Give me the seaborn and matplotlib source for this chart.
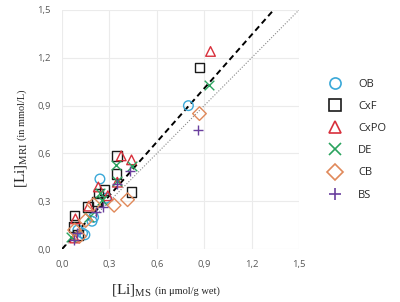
import matplotlib
matplotlib.use('Agg')
import matplotlib.pyplot as plt
from matplotlib.lines import Line2D
import seaborn as sns

# values
ob_x = [0.80, 0.24, 0.19, 0.20, 0.145, 0.13, 0.28, 0.10]
ob_y = [0.90, 0.44, 0.175, 0.20, 0.09, 0.10, 0.32, 0.12]

cxf_x = [0.87, 0.35, 0.345, 0.44, 0.27, 0.22, 0.165, 0.08, 0.075, 0.10, 0.23]
cxf_y = [1.14, 0.585, 0.47, 0.36, 0.37, 0.30, 0.265, 0.21, 0.14, 0.09, 0.35]

cxpo_x = [0.94, 0.375, 0.44, 0.35, 0.23, 0.29, 0.17, 0.085, 0.08]
cxpo_y = [1.24, 0.585, 0.56, 0.42, 0.39, 0.335, 0.27, 0.19, 0.07]

de_x = [0.93, 0.34, 0.44, 0.35, 0.24, 0.17, 0.06, 0.25]
de_y = [1.03, 0.53, 0.52, 0.43, 0.35, 0.20, 0.075, 0.31]

cb_x = [0.87, 0.415, 0.33, 0.15, 0.08, 0.20, 0.11]
cb_y = [0.85, 0.31, 0.275, 0.18, 0.12, 0.28, 0.08]

bs_x = [0.86, 0.43, 0.35, 0.26, 0.215, 0.095, 0.075]
bs_y = [0.75, 0.49, 0.41, 0.265, 0.235, 0.10, 0.06]

groups = ['OB', 'CxF', 'CxPO', 'DE', 'CB', 'BS']
markers = ['o', 's', '^', 'x', 'D', '+']
colors = ['#3aa8d8', '#1a1a1a', '#d8303c', '#2aa35e', '#e0895a', '#6a3f9e']
xs = [ob_x, cxf_x, cxpo_x, de_x, cb_x, bs_x]
ys = [ob_y, cxf_y, cxpo_y, de_y, cb_y, bs_y]

fit_slope = 1.12
ticks = [0.0, 0.3, 0.6, 0.9, 1.2, 1.5]
tick_labels = ['0,0', '0,3', '0,6', '0,9', '1,2', '1,5']

sns.set_style('white')
plt.rcParams['font.family'] = ['Open Sans', 'DejaVu Sans']
plt.rcParams['mathtext.fontset'] = 'custom'
plt.rcParams['mathtext.rm'] = 'Liberation Serif'

fig = plt.figure(figsize=(4.0, 3.02), dpi=100)
ax = fig.add_axes([0.155, 0.175, 0.5925, 0.792])

# reference lines
sns.lineplot(x=[0, 1.5], y=[0, 1.5], color='#888888', linestyle=(0, (1, 1.5)),
             linewidth=0.8, ax=ax)
sns.lineplot(x=[0, 1.5 / fit_slope], y=[0, 1.5], color='black', linestyle=(0, (3, 2)),
             linewidth=1.4, ax=ax)

handles = []
for name, m, c, x, y in zip(groups, markers, colors, xs, ys):
    filled = m not in ('x', '+')
    if filled:
        ax.scatter(x, y, marker=m, s=48, facecolors='none', edgecolors=c, linewidths=1.0, zorder=3)
    else:
        ax.scatter(x, y, marker=m, s=48, color=c, linewidths=1.0, zorder=3)
    handles.append(Line2D([], [], linestyle='none', marker=m, markersize=8,
                          markerfacecolor='none', markeredgecolor=c, markeredgewidth=1.2,
                          color=c, label=name))

ax.set_xlim(0, 1.5)
ax.set_ylim(0, 1.5)
ax.set_xticks(ticks)
ax.set_yticks(ticks)
ax.set_xticklabels(tick_labels)
ax.set_yticklabels(tick_labels)
ax.tick_params(length=0, labelsize=6.8, labelcolor='#595959', pad=8)
ax.grid(True, color='#ebebeb', linewidth=0.8)
ax.set_axisbelow(True)
sns.despine(ax=ax, left=True, bottom=True)
ax.set_xlabel('')
ax.set_ylabel('')

# axis titles with mixed sizes
fig.text(152 / 400, 1 - 294 / 302, '[Li]$_{\\mathrm{MS}}$', family='Liberation Serif',
         fontsize=11, ha='right', va='baseline')
fig.text(155 / 400, 1 - 294 / 302, '(in \u03bcmol/g wet)', family='Liberation Serif',
         fontsize=7.5, ha='left', va='baseline')
fig.text(25 / 400, 1 - 188 / 302, '[Li]$_{\\mathrm{MRI}}$', family='Liberation Serif',
         fontsize=11, rotation=90, rotation_mode='anchor', ha='left', va='baseline')
fig.text(25 / 400, 1 - 140 / 302, '(in mmol/L)', family='Liberation Serif',
         fontsize=7.5, rotation=90, rotation_mode='anchor', ha='left', va='baseline')

fig.legend(handles=handles, loc='upper left', bbox_to_anchor=(317 / 400, 1 - 69 / 302),
           frameon=False, fontsize=8, labelspacing=1.0, handletextpad=1.3,
           handlelength=1.5)

fig.savefig('out.png', dpi=100)
